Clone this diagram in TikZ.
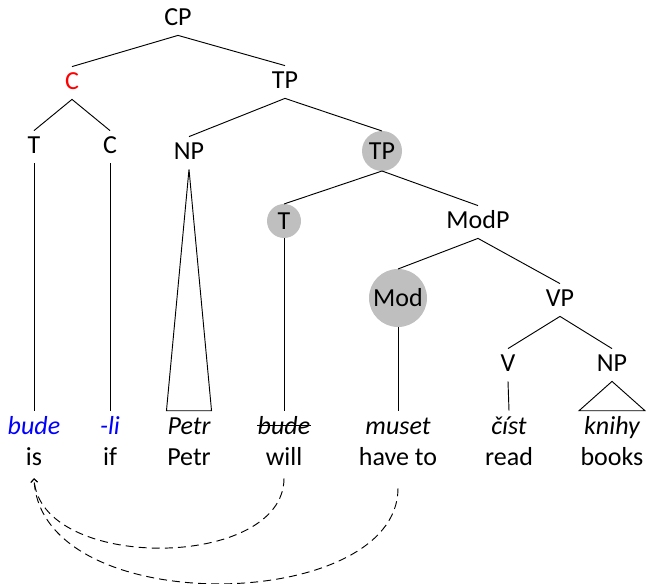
\documentclass[tikz,border=0pt]{standalone}
\usepackage{fontspec}
\setmainfont{Carlito}
\usetikzlibrary{arrows.meta,calc}
\definecolor{circgray}{RGB}{191,191,191}
\definecolor{wordblue}{RGB}{0,0,255}
\definecolor{catred}{RGB}{255,0,0}
\begin{document}
\begin{tikzpicture}[x=0.75pt,y=-0.75pt,
  every node/.style={font=\fontsize{19.5}{23}\selectfont},
  lab/.style={anchor=base,inner sep=0pt,text height=12.6pt,text depth=3pt,outer sep=4.5pt},
  hl/.style={circle,fill=circgray,inner sep=0pt,outer sep=0pt},
  wa/.style={anchor=base,inner sep=0pt,text height=17.25pt,text depth=0pt,font=\fontsize{19.5}{23}\selectfont\itshape},
  wb/.style={anchor=base,inner sep=0pt,text height=12pt,text depth=9.75pt},
  br/.style={line width=0.7pt},
  mv/.style={line width=0.7pt,dash pattern=on 6pt off 3.8pt,-{Straight Barb[length=2.5pt,width=5pt]}}
]
\useasboundingbox (0,0) rectangle (646,584);

% category labels
\node[lab] (cp) at (178,25.4) {CP};
\node[lab,text=catred] (c) at (72,89.4) {C};
\node[lab] (tp) at (285,88.4) {TP};
\node[lab] (t) at (34,153.4) {T};
\node[lab] (cc) at (110,153.4) {C};
\node[lab] (np) at (189,159.4) {NP};
\node[hl,minimum size=30pt] (tpc) at (382,151) {TP};
\node[hl,minimum size=25.5pt] (tc) at (284,221) {T};
\node[lab] (modp) at (478,228.4) {ModP};
\node[hl,minimum size=43.5pt] (mod) at (398,298) {Mod};
\node[lab] (vp) at (560,306.4) {VP};
\node[lab] (v) at (508,371.4) {V};
\node[lab] (np2) at (612,371.4) {NP};

% words, row 1
\node[wa,text=wordblue] (w1) at (34,434) {bude};
\node[wa,text=wordblue] (w2) at (110,434) {-li};
\node[wa] (w3) at (189,434) {Petr};
\node[wa] (w4) at (284,434) {bude};
\node[wa] (w5) at (398,434) {muset};
\node[wa] (w6) at (509,434) {číst};
\node[wa] (w7) at (612,434) {knihy};
% words, row 2
\node[wb] (g1) at (34,465) {is};
\node[wb] (g2) at (110,465) {if};
\node[wb] (g3) at (189,465) {Petr};
\node[wb] (g4) at (284,465) {will};
\node[wb] (g5) at (398,465) {have to};
\node[wb] (g6) at (509,465) {read};
\node[wb] (g7) at (612,465) {books};

% strike-through of the lower copy
\draw[br] ([yshift=6.75pt]w4.base west) -- ([yshift=6.75pt]w4.base east);

% branches
\draw[br] (c.north) -- (cp.south) -- (tp.north);
\draw[br] (t.north) -- (c.south) -- (cc.north);
\draw[br] (np.north) -- (tp.south) -- (tpc.north);
\draw[br] (tc.north) -- (tpc.south) -- (modp.north);
\draw[br] (mod.north) -- (modp.south) -- (vp.north);
\draw[br] (v.north) -- (vp.south) -- (np2.north);

\draw[br] (t.south) -- (w1.north);
\draw[br] (cc.south) -- (w2.north);
\draw[br] (np.south) -- ([xshift=-16.9pt]w3.north) -- ([xshift=16.9pt]w3.north) -- cycle;
\draw[br] (tc.south) -- (w4.north);
\draw[br] (mod.south) -- (w5.north);
\draw[br] (v.south) -- (w6.north);
\draw[br] (np2.south) -- ([xshift=-24.75pt]w7.north) -- ([xshift=24.75pt]w7.north) -- cycle;

% movement arrows
\draw[mv] (g4.south) .. controls +(0,92) and +(6,94) .. (g1.south);
\draw[mv,shorten <=7.5pt] (g5.south) .. controls +(0,135) and +(6,143) .. (g1.south);
\end{tikzpicture}
\end{document}
